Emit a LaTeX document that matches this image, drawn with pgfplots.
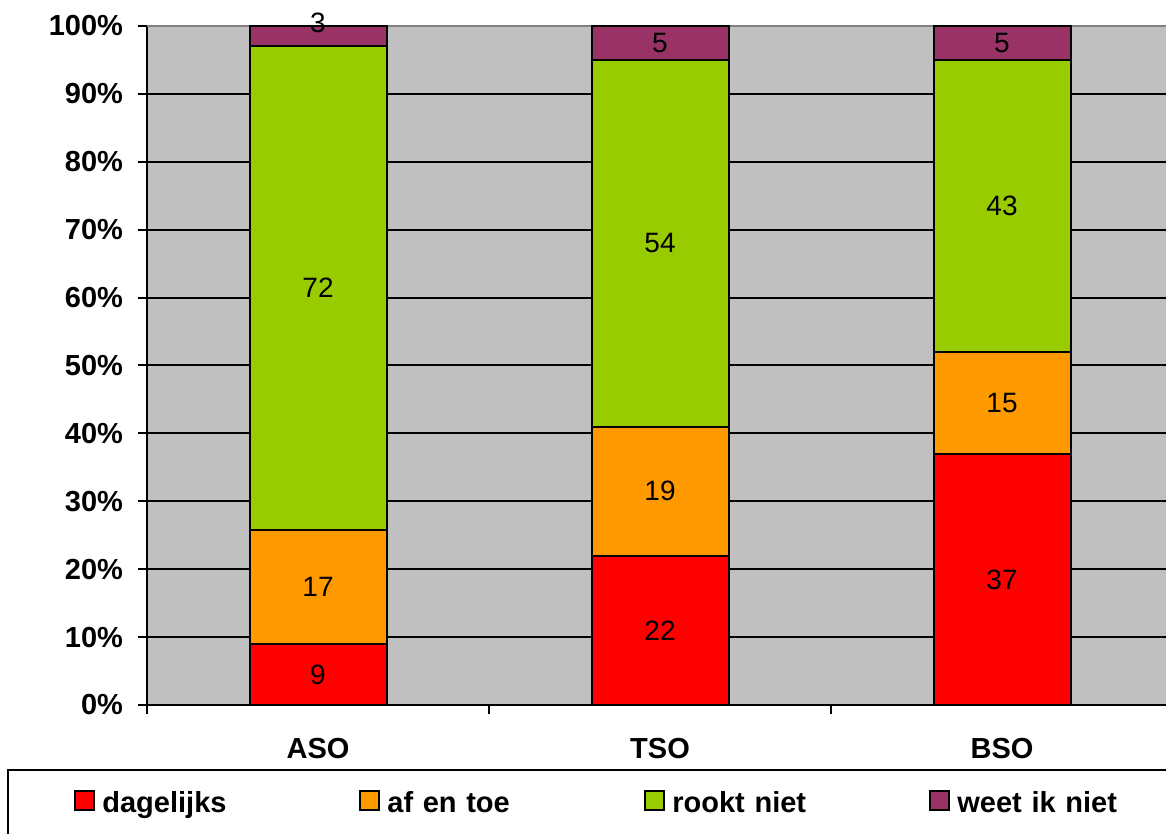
\documentclass[border=0pt]{standalone}
\usepackage{pgfplots}
\pgfplotsset{compat=1.18}
\usepackage{fontspec}
\setmainfont{Liberation Sans}
\definecolor{cred}{HTML}{FF0000}
\definecolor{corange}{HTML}{FF9900}
\definecolor{cgreen}{HTML}{99CC00}
\definecolor{cpurple}{HTML}{993366}
\definecolor{cbg}{HTML}{C0C0C0}
\definecolor{ctop}{HTML}{808080}
\newcommand{\bigb}{\bfseries\fontsize{14.5}{17}\selectfont}
\begin{document}
\begin{tikzpicture}
\useasboundingbox (-73.5pt,-64.5pt) rectangle (509.5pt,352.5pt);
\begin{axis}[
  at={(0pt,0pt)}, anchor=south west,
  scale only axis, width=513pt, height=339.5pt,
  xmin=-0.5, xmax=2.5, ymin=0, ymax=100,
  ybar stacked, bar width=68.5pt,
  axis background/.style={fill=cbg},
  axis x line*=bottom, axis y line*=left,
  axis line style={black, line width=1pt},
  tick align=outside, major tick length=4.5pt,
  tick style={black, line width=1pt},
  ytick={0,10,20,30,40,50,60,70,80,90},
  yticklabels={0\%,10\%,20\%,30\%,40\%,50\%,60\%,70\%,80\%,90\%},
  extra y ticks={100}, extra y tick labels={100\%},
  extra y tick style={major grid style={draw=ctop, line width=1pt}},
  ymajorgrids, major grid style={black, line width=1pt},
  xtick={-0.5,0.5,1.5,2.5}, x tick label as interval,
  xticklabels={ASO,TSO,BSO},
  ticklabel style={font=\bigb},
  xticklabel style={yshift=-8.5pt},
  yticklabel style={xshift=-4pt},
  legend columns=4,
  legend style={at={(0,0)}, anchor=west, xshift=-36.5pt, yshift=-49pt,
    draw=none, fill=none, inner sep=0pt, font=\bigb,
    nodes={inner xsep=3.5pt, text width=110pt, align=left},
    /tikz/every even column/.append style={column sep=15pt}},
  legend image code/.code={\draw[#1, draw=black, line width=1pt] (0pt,-3.5pt) rectangle (9.5pt,6pt);},
]
\addplot[fill=cred, draw=black, line width=1pt] coordinates {(0,8.911) (1,22) (2,37)};
\addplot[fill=corange, draw=black, line width=1pt] coordinates {(0,16.832) (1,19) (2,15)};
\addplot[fill=cgreen, draw=black, line width=1pt] coordinates {(0,71.287) (1,54) (2,43)};
\addplot[fill=cpurple, draw=black, line width=1pt] coordinates {(0,2.970) (1,5) (2,5)};
\legend{dagelijks, af en toe, rookt niet, weet ik niet}
\end{axis}
\begin{axis}[
  at={(0pt,0pt)}, anchor=south west,
  scale only axis, width=513pt, height=339.5pt,
  xmin=-0.5, xmax=2.5, ymin=0, ymax=100,
  hide axis, clip=false]
\addplot[draw=none, mark=none, nodes near coords, point meta=explicit symbolic,
  every node near coord/.append style={anchor=center, font=\fontsize{14}{16}\selectfont, text=black}]
  coordinates {(0,4.455)[9] (0,17.327)[17] (0,61.386)[72] (0,100.4)[3]
               (1,11)[22] (1,31.5)[19] (1,68)[54] (1,97.5)[5]
               (2,18.5)[37] (2,44.5)[15] (2,73.5)[43] (2,97.5)[5]};
\end{axis}
\draw[black, line width=1pt] (-69.5pt,-32.5pt) rectangle (540pt,-80pt);
\end{tikzpicture}
\end{document}
